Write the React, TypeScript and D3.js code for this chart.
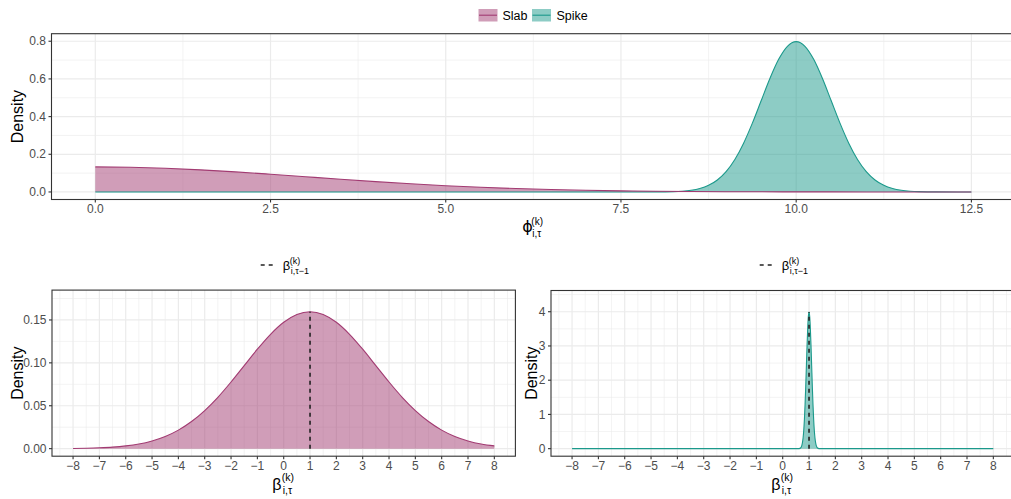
import React from "react";
import * as d3 from "d3";

const W = 1011;
const H = 499;
const FONT = "'Liberation Sans', Arial, Helvetica, 'DejaVu Sans', sans-serif";

// ---------- data ----------
// Top panel: slab (pink) and spike (teal) densities over phi
const slabX = [0, 0.5, 1, 1.5, 2, 2.5, 3, 3.5, 4, 4.5, 5, 5.5, 6, 6.5, 7, 7.5, 8, 8.5, 9, 9.5, 10, 10.5, 11, 11.5, 12, 12.5];
const slabY = [0.133, 0.1311, 0.1258, 0.1174, 0.1065, 0.094, 0.0807, 0.0673, 0.0547, 0.0432, 0.0332, 0.0248, 0.018, 0.0127, 0.0087, 0.0058, 0.0038, 0.0024, 0.0015, 0.0009, 0.0005, 0.0003, 0.0002, 0.0001, 0.0, 0.0];

const spikeX = [0, 1, 2, 3, 4, 5, 6, 7, 7.5, 8, 8.25, 8.375, 8.5, 8.625, 8.75, 8.875, 9, 9.125, 9.25, 9.375, 9.5, 9.625, 9.75, 9.875, 10, 10.125, 10.25, 10.375, 10.5, 10.625, 10.75, 10.875, 11, 11.125, 11.25, 11.375, 11.5, 11.625, 11.75, 12, 12.5];
const spikeY = [0, 0, 0, 0, 0, 0, 0, 0, 0, 0.0003, 0.0017, 0.0041, 0.0089, 0.0182, 0.0351, 0.0635, 0.108, 0.1726, 0.259, 0.3653, 0.4839, 0.6023, 0.7041, 0.7733, 0.7979, 0.7733, 0.7041, 0.6023, 0.4839, 0.3653, 0.259, 0.1726, 0.108, 0.0635, 0.0351, 0.0182, 0.0089, 0.0041, 0.0017, 0.0003, 0];

// Bottom left: slab density over beta
const betaSlabX = [-8, -7.5, -7, -6.5, -6, -5.5, -5, -4.5, -4, -3.5, -3, -2.5, -2, -1.5, -1, -0.5, 0, 0.5, 1, 1.5, 2, 2.5, 3, 3.5, 4, 4.5, 5, 5.5, 6, 6.5, 7, 7.5, 8];
const betaSlabY = [0.0002, 0.0005, 0.001, 0.0018, 0.0032, 0.0054, 0.009, 0.0142, 0.0216, 0.0316, 0.0444, 0.0599, 0.0777, 0.0968, 0.1159, 0.1333, 0.1473, 0.1564, 0.1596, 0.1564, 0.1473, 0.1333, 0.1159, 0.0968, 0.0777, 0.0599, 0.0444, 0.0316, 0.0216, 0.0142, 0.009, 0.0054, 0.0032];

// Bottom right: spike density over beta
const betaSpikeX = [-8, -7, -6, -5, -4, -3, -2, -1, 0, 0.5, 0.6, 0.65, 0.7, 0.725, 0.75, 0.775, 0.8, 0.825, 0.85, 0.875, 0.9, 0.925, 0.95, 0.975, 1, 1.025, 1.05, 1.075, 1.1, 1.125, 1.15, 1.175, 1.2, 1.225, 1.25, 1.275, 1.3, 1.35, 1.4, 1.5, 2, 3, 4, 5, 6, 7, 8];
const betaSpikeY = [0, 0, 0, 0, 0, 0, 0, 0, 0, 0, 0.0013, 0.0087, 0.0443, 0.091, 0.1753, 0.317, 0.54, 0.863, 1.295, 1.826, 2.42, 3.011, 3.52, 3.866, 3.989, 3.866, 3.52, 3.011, 2.42, 1.826, 1.295, 0.863, 0.54, 0.317, 0.1753, 0.091, 0.0443, 0.0087, 0.0013, 0, 0, 0, 0, 0, 0, 0, 0];

// previous value (dashed reference line) and its height in each bottom panel
const prevBeta = 1;
const prevSlabPeak = 0.1596;
const prevSpikePeak = 3.989;

// ticks
const topXTicks = [0, 2.5, 5, 7.5, 10, 12.5];
const topXLabels = ["0.0", "2.5", "5.0", "7.5", "10.0", "12.5"];
const topXMinor = [1.25, 3.75, 6.25, 8.75, 11.25];
const topYTicks = [0, 0.2, 0.4, 0.6, 0.8];
const topYLabels = ["0.0", "0.2", "0.4", "0.6", "0.8"];
const topYMinor = [0.1, 0.3, 0.5, 0.7];

const betaXTicks = [-8, -7, -6, -5, -4, -3, -2, -1, 0, 1, 2, 3, 4, 5, 6, 7, 8];
const betaXLabels = ["−8", "−7", "−6", "−5", "−4", "−3", "−2", "−1", "0", "1", "2", "3", "4", "5", "6", "7", "8"];
const betaXMinor = [-8.5, -7.5, -6.5, -5.5, -4.5, -3.5, -2.5, -1.5, -0.5, 0.5, 1.5, 2.5, 3.5, 4.5, 5.5, 6.5, 7.5, 8.5];
const slabYTicks = [0, 0.05, 0.1, 0.15];
const slabYLabels = ["0.00", "0.05", "0.10", "0.15"];
const slabYMinor = [0.025, 0.075, 0.125, 0.175];
const spikeYTicks = [0, 1, 2, 3, 4];
const spikeYLabels = ["0", "1", "2", "3", "4"];
const spikeYMinor = [0.5, 1.5, 2.5, 3.5, 4.5];

const legendNames = ["Slab", "Spike"];

const SLAB = "#a23b72";
const SPIKE = "#1b998b";
const GRID = "#ebebeb";
const BORDER = "#333333";
const TICKTXT = "#4d4d4d";

type Scale = d3.ScaleLinear<number, number>;

function zip(xs: number[], ys: number[]): [number, number][] {
  return xs.map((v, i) => [v, ys[i]]);
}

function Density({ x, y, xs, ys, color, part }: { x: Scale; y: Scale; xs: number[]; ys: number[]; color: string; part: "fill" | "line" }) {
  const pts = zip(xs, ys);
  if (part === "fill") {
    const area = d3
      .area<[number, number]>()
      .x((d) => x(d[0]))
      .y0(y(0))
      .y1((d) => y(d[1]))
      .curve(d3.curveMonotoneX);
    return <path d={area(pts) || ""} fill={color} fillOpacity={0.5} stroke="none" />;
  }
  const line = d3
    .line<[number, number]>()
    .x((d) => x(d[0]))
    .y((d) => y(d[1]))
    .curve(d3.curveMonotoneX);
  return <path d={line(pts) || ""} fill="none" stroke={color} strokeWidth={1.1} />;
}

function Panel({
  x, y, xTicks, xLabels, xMinor, yTicks, yLabels, yMinor, children,
}: {
  x: Scale; y: Scale; xTicks: number[]; xLabels: string[]; xMinor: number[];
  yTicks: number[]; yLabels: string[]; yMinor: number[]; children?: React.ReactNode;
}) {
  const [x0, x1] = x.range();
  const [y0, y1] = y.range();
  return (
    <g>
      {xMinor.map((v, i) => (
        <line key={"xm" + i} x1={x(v)} x2={x(v)} y1={y0} y2={y1} stroke={GRID} strokeWidth={0.6} />
      ))}
      {yMinor.map((v, i) => (
        <line key={"ym" + i} x1={x0} x2={x1} y1={y(v)} y2={y(v)} stroke={GRID} strokeWidth={0.6} />
      ))}
      {xTicks.map((v, i) => (
        <line key={"xg" + i} x1={x(v)} x2={x(v)} y1={y0} y2={y1} stroke={GRID} strokeWidth={1.2} />
      ))}
      {yTicks.map((v, i) => (
        <line key={"yg" + i} x1={x0} x2={x1} y1={y(v)} y2={y(v)} stroke={GRID} strokeWidth={1.2} />
      ))}
      {children}
      <rect x={x0} y={y1} width={x1 - x0} height={y0 - y1} fill="none" stroke={BORDER} strokeWidth={1.1} />
      {xTicks.map((v, i) => (
        <g key={"xt" + i}>
          <line x1={x(v)} x2={x(v)} y1={y0} y2={y0 + 3} stroke={BORDER} strokeWidth={1.1} />
          <text x={x(v)} y={y0 + 13.6} textAnchor="middle" fontSize={12} fill={TICKTXT} fontFamily={FONT}>
            {xLabels[i]}
          </text>
        </g>
      ))}
      {yTicks.map((v, i) => (
        <g key={"yt" + i}>
          <line x1={x0 - 3} x2={x0} y1={y(v)} y2={y(v)} stroke={BORDER} strokeWidth={1.1} />
          <text x={x0 - 5.5} y={y(v)} dy="0.35em" textAnchor="end" fontSize={12} fill={TICKTXT} fontFamily={FONT}>
            {yLabels[i]}
          </text>
        </g>
      ))}
    </g>
  );
}

function MathLabel({
  x, y, base, sup, sub, size, small, supDy, subDy, off, baseFont,
}: {
  x: number; y: number; base: string; sup: string; sub: string; size: number; small: number; supDy: number; subDy: number; off: number; baseFont?: string;
}) {
  return (
    <g fontFamily={FONT} fill="#000">
      <text x={x} y={y} fontSize={size} fontFamily={baseFont || FONT}>{base}</text>
      <text x={x + off} y={y + supDy} fontSize={small}>{sup}</text>
      <text x={x + off + 1} y={y + subDy} fontSize={small}>{sub}</text>
    </g>
  );
}

function YTitle({ x, y }: { x: number; y: number }) {
  return (
    <text transform={`translate(${x},${y}) rotate(-90)`} dy="0.35em" textAnchor="middle" fontSize={16} fontFamily={FONT} fill="#000">
      Density
    </text>
  );
}

function DashLegend({ cx, y }: { cx: number; y: number }) {
  return (
    <g>
      <line x1={cx - 23} x2={cx - 9} y1={y} y2={y} stroke="#222" strokeWidth={1.6} strokeDasharray="4,4" />
      <MathLabel x={cx - 1} y={y + 5} base="β" sup="(k)" sub="i,τ−1" size={13} small={9} supDy={-6} subDy={4} off={7} />
    </g>
  );
}

export default function App() {
  // top panel
  const xTop = d3.scaleLinear().domain([-0.625, 13.125]).range([51.5, 1015.2]);
  const yTop = d3.scaleLinear().domain([-0.04, 0.84]).range([199.5, 33.7]);
  // bottom left
  const xBL = d3.scaleLinear().domain([-8.8, 8.8]).range([52, 515.4]);
  const yBL = d3.scaleLinear().domain([-0.0088, 0.1848]).range([456.2, 290.1]);
  // bottom right
  const xBR = d3.scaleLinear().domain([-8.8, 8.8]).range([551, 1014.4]);
  const yBR = d3.scaleLinear().domain([-0.22, 4.62]).range([456.2, 290.5]);

  const topCx = (51.5 + 1015.2) / 2;
  const blCx = (52 + 515.4) / 2;
  const brCx = (551 + 1014.4) / 2;

  return (
    <svg width={W} height={H} style={{ position: "absolute", left: 0, top: 0, background: "#fff" }} fontFamily={FONT}>
      <rect x={0} y={0} width={W} height={H} fill="#fff" />

      {/* top legend */}
      <g>
        <rect x={478.5} y={9} width={19} height={12.5} fill={SLAB} fillOpacity={0.5} />
        <line x1={479} x2={497} y1={15.2} y2={15.2} stroke={SLAB} strokeWidth={1.1} />
        <text x={502.5} y={15.2} dy="0.35em" fontSize={12.5} fontFamily={FONT} fill="#000">{legendNames[0]}</text>
        <rect x={532} y={9} width={19} height={12.5} fill={SPIKE} fillOpacity={0.5} />
        <line x1={532.5} x2={550.5} y1={15.2} y2={15.2} stroke={SPIKE} strokeWidth={1.1} />
        <text x={556.5} y={15.2} dy="0.35em" fontSize={12.5} fontFamily={FONT} fill="#000">{legendNames[1]}</text>
      </g>

      {/* top panel */}
      <Panel x={xTop} y={yTop} xTicks={topXTicks} xLabels={topXLabels} xMinor={topXMinor} yTicks={topYTicks} yLabels={topYLabels} yMinor={topYMinor}>
        <Density x={xTop} y={yTop} xs={slabX} ys={slabY} color={SLAB} part="fill" />
        <Density x={xTop} y={yTop} xs={spikeX} ys={spikeY} color={SPIKE} part="fill" />
        <Density x={xTop} y={yTop} xs={spikeX} ys={spikeY} color={SPIKE} part="line" />
        <Density x={xTop} y={yTop} xs={slabX} ys={slabY} color={SLAB} part="line" />
      </Panel>
      <YTitle x={17} y={116.6} />
      <MathLabel x={topCx - 11} y={232} base="ϕ" sup="(k)" sub="i,τ" size={16} small={10} supDy={-7.5} subDy={4.5} off={9} baseFont="'DejaVu Sans', sans-serif" />

      {/* bottom left */}
      <DashLegend cx={blCx} y={265} />
      <Panel x={xBL} y={yBL} xTicks={betaXTicks} xLabels={betaXLabels} xMinor={betaXMinor} yTicks={slabYTicks} yLabels={slabYLabels} yMinor={slabYMinor}>
        <Density x={xBL} y={yBL} xs={betaSlabX} ys={betaSlabY} color={SLAB} part="fill" />
        <Density x={xBL} y={yBL} xs={betaSlabX} ys={betaSlabY} color={SLAB} part="line" />
        <line x1={xBL(prevBeta)} x2={xBL(prevBeta)} y1={yBL(0)} y2={yBL(prevSlabPeak)} stroke="#222" strokeWidth={1.6} strokeDasharray="4,4" />
      </Panel>
      <YTitle x={17} y={373.2} />
      <MathLabel x={blCx - 11.5} y={489.5} base="β" sup="(k)" sub="i,τ" size={16} small={10.5} supDy={-8.5} subDy={4} off={9.5} />

      {/* bottom right */}
      <DashLegend cx={brCx} y={265} />
      <Panel x={xBR} y={yBR} xTicks={betaXTicks} xLabels={betaXLabels} xMinor={betaXMinor} yTicks={spikeYTicks} yLabels={spikeYLabels} yMinor={spikeYMinor}>
        <Density x={xBR} y={yBR} xs={betaSpikeX} ys={betaSpikeY} color={SPIKE} part="fill" />
        <Density x={xBR} y={yBR} xs={betaSpikeX} ys={betaSpikeY} color={SPIKE} part="line" />
        <line x1={xBR(prevBeta)} x2={xBR(prevBeta)} y1={yBR(0)} y2={yBR(prevSpikePeak)} stroke="#222" strokeWidth={1.6} strokeDasharray="4,4" />
      </Panel>
      <YTitle x={531} y={373.2} />
      <MathLabel x={brCx - 11.5} y={489.5} base="β" sup="(k)" sub="i,τ" size={16} small={10.5} supDy={-8.5} subDy={4} off={9.5} />
    </svg>
  );
}
